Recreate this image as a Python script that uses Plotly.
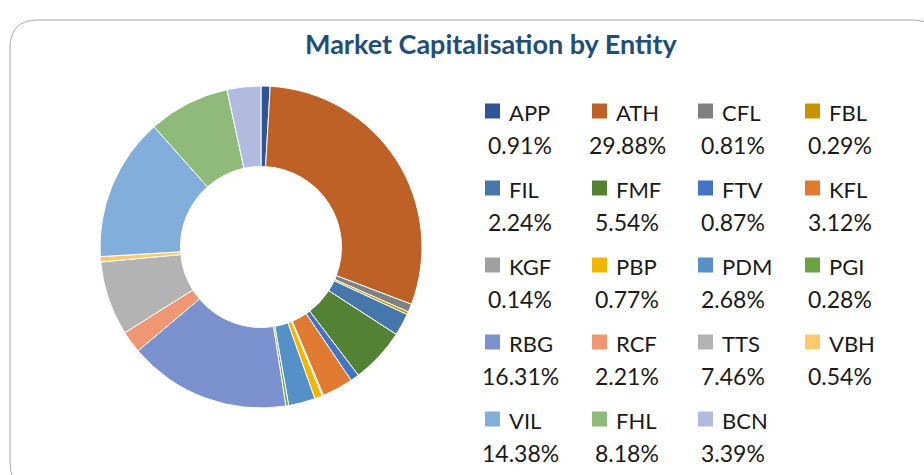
import plotly.graph_objects as go

entities = ["APP", "ATH", "CFL", "FBL", "FIL", "FMF", "FTV", "KFL", "KGF", "PBP",
            "PDM", "PGI", "RBG", "RCF", "TTS", "VBH", "VIL", "FHL", "BCN"]
shares = [0.91, 29.88, 0.81, 0.29, 2.24, 5.54, 0.87, 3.12, 0.14, 0.77,
          2.68, 0.28, 16.31, 2.21, 7.46, 0.54, 14.38, 8.18, 3.39]
colors = ["#2F5597", "#BE6126", "#808080", "#C69400", "#4677AA", "#548235",
          "#4472C4", "#E07A30", "#A0A0A0", "#F2B600", "#5590C8", "#6AA342",
          "#7A91CE", "#EF9672", "#B3B3B3", "#FDC96A", "#82AEDB", "#90BA7A", "#B0BBDE"]
title = "Market Capitalisation by Entity"

W, H = 924, 475
FONT = "Lato, 'Open Sans', sans-serif"


def px(x):
    return x / W


def py(y):
    return 1 - y / H


fig = go.Figure()
fig.add_trace(go.Pie(
    labels=entities, values=shares, hole=0.5, sort=False, direction="clockwise",
    rotation=0, textinfo="none", hoverinfo="label+percent",
    marker=dict(colors=colors, line=dict(color="white", width=1)),
    domain=dict(x=[px(100), px(422)], y=[py(408), py(86)]),
    showlegend=False,
))

shapes = []
annotations = []

# rounded border of the chart area
x0, y0, x1, y1 = px(10), py(20), px(940), py(490)
rx, ry = px(28), 28 / H
shapes.append(dict(
    type="path", xref="paper", yref="paper",
    path=(f"M {x0},{y0 - ry} Q {x0},{y0} {x0 + rx},{y0} L {x1 - rx},{y0} "
          f"Q {x1},{y0} {x1},{y0 - ry} L {x1},{y1 + ry} Q {x1},{y1} {x1 - rx},{y1} "
          f"L {x0 + rx},{y1} Q {x0},{y1} {x0},{y1 + ry} Z"),
    line=dict(color="#A6A6A6", width=1), fillcolor="rgba(0,0,0,0)", layer="below",
))

# legend grid: 4 columns
col_x = [485, 592, 698, 805]
row_y = [111, 188, 265, 342, 419]
msize = 15
for i, (name, val, c) in enumerate(zip(entities, shares, colors)):
    r, k = divmod(i, 4)
    mx, my = col_x[k], row_y[r]
    shapes.append(dict(type="rect", xref="paper", yref="paper",
                       x0=px(mx), x1=px(mx + msize), y0=py(my + msize / 2), y1=py(my - msize / 2),
                       fillcolor=c, line=dict(width=0)))
    annotations.append(dict(text=name, x=px(mx + 22), y=py(my + 1), xref="paper", yref="paper",
                            xanchor="left", yanchor="middle", showarrow=False,
                            font=dict(family=FONT, size=22, color="#1a1a1a")))
    annotations.append(dict(text=f"{val:.2f}%", x=px(mx + 35), y=py(my + 34), xref="paper", yref="paper",
                            xanchor="center", yanchor="middle", showarrow=False,
                            font=dict(family=FONT, size=23, color="#1a1a1a")))

annotations.append(dict(text=f"<b>{title}</b>", x=px(491), y=py(44), xref="paper", yref="paper",
                        xanchor="center", yanchor="middle", showarrow=False,
                        font=dict(family=FONT, size=27, color="#1F4E79")))

fig.update_layout(
    width=W, height=H, margin=dict(l=0, r=0, t=0, b=0),
    paper_bgcolor="white", plot_bgcolor="white",
    shapes=shapes, annotations=annotations,
)

fig.write_html("out.html", config={"displayModeBar": False},
               post_script="document.body.style.margin='0px';")
